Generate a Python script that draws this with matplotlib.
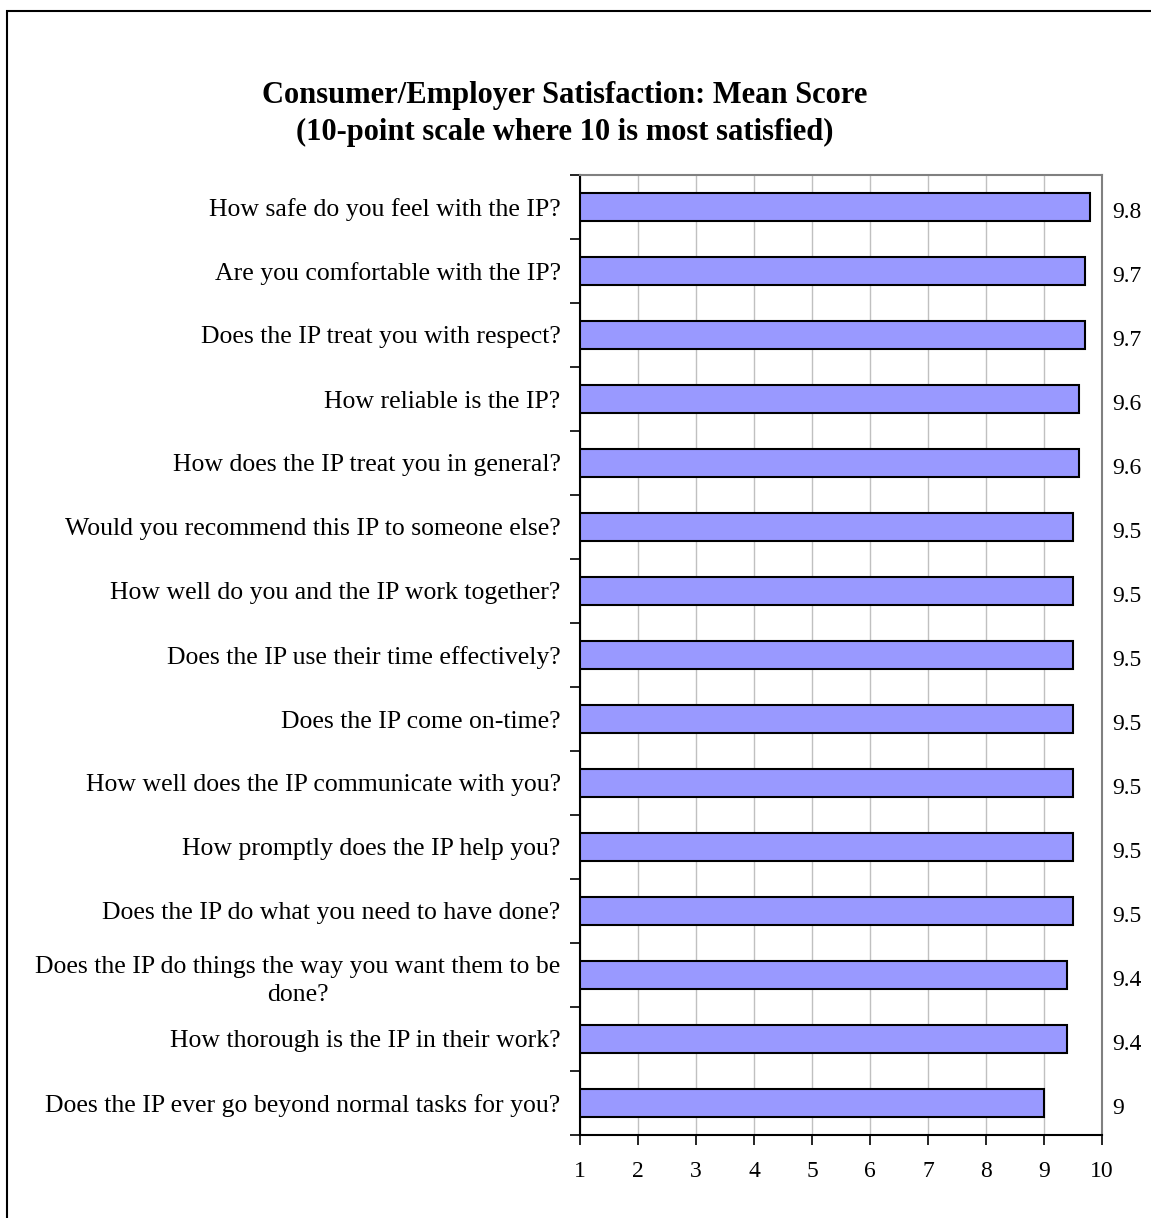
import matplotlib
matplotlib.use("Agg")
import matplotlib.pyplot as plt
from matplotlib.patches import Rectangle
import numpy as np

# Survey questions (top to bottom) and their mean scores
questions = [
    "How safe do you feel with the IP?",
    "Are you comfortable with the IP?",
    "Does the IP treat you with respect?",
    "How reliable is the IP?",
    "How does the IP treat you in general?",
    "Would you recommend this IP to someone else?",
    "How well do you and the IP work together?",
    "Does the IP use their time effectively?",
    "Does the IP come on-time?",
    "How well does the IP communicate with you?",
    "How promptly does the IP help you?",
    "Does the IP do what you need to have done?",
    "Does the IP do things the way you want them to be\ndone?",
    "How thorough is the IP in their work?",
    "Does the IP ever go beyond normal tasks for you?",
]
scores = [9.8, 9.7, 9.7, 9.6, 9.6, 9.5, 9.5, 9.5, 9.5, 9.5, 9.5, 9.5, 9.4, 9.4, 9.0]
score_labels = ["9.8", "9.7", "9.7", "9.6", "9.6", "9.5", "9.5", "9.5", "9.5",
                "9.5", "9.5", "9.5", "9.4", "9.4", "9"]
x_ticks = [1, 2, 3, 4, 5, 6, 7, 8, 9, 10]
title = "Consumer/Employer Satisfaction: Mean Score\n(10-point scale where 10 is most satisfied)"

plt.rcParams["font.family"] = ["Liberation Serif", "DejaVu Serif"]

W, H = 1151, 1218
fig = plt.figure(figsize=(W / 100, H / 100), dpi=100)
fig.patch.set_facecolor("white")

left, right, top, bottom = 580, 1102, 175, 1135
ax = fig.add_axes([left / W, 1 - bottom / H, (right - left) / W, (bottom - top) / H])

n = len(questions)
y = np.arange(n)
x_min = x_ticks[0]
ax.barh(y, [s - x_min for s in scores], left=x_min, height=0.43,
        color="#9999FF", edgecolor="black", linewidth=1.5, zorder=3)

ax.set_xlim(x_ticks[0], x_ticks[-1])
ax.set_ylim(n - 0.5, -0.5)

ax.set_xticks(x_ticks)
ax.set_xticklabels([str(t) for t in x_ticks], fontsize=17)
ax.tick_params(axis="x", direction="out", length=7, width=1.2, pad=12, colors="black")

ax.set_yticks(y)
ax.set_yticklabels(questions, fontsize=18.5, ha="right", multialignment="center",
                   linespacing=1.4)
ax.tick_params(axis="y", which="major", length=0, pad=14)
ax.set_yticks(np.arange(-0.5, n, 1.0), minor=True)
ax.tick_params(axis="y", which="minor", direction="out", length=7, width=1.2)

ax.grid(axis="x", color="#c0c0c0", linewidth=1.0, zorder=0)
ax.set_axisbelow(True)

for side in ("left", "bottom"):
    ax.spines[side].set_color("black")
    ax.spines[side].set_linewidth(1.5)
for side in ("top", "right"):
    ax.spines[side].set_color("#808080")
    ax.spines[side].set_linewidth(1.5)

# Value labels to the right of the plot area
trans = matplotlib.transforms.blended_transform_factory(ax.transAxes, ax.transData)
for yi, lab in zip(y, score_labels):
    ax.text(1.0 + 10 / (right - left), yi + 0.08, lab, transform=trans,
            ha="left", va="center", fontsize=17)

fig.text(565 / W, 1 - 114 / H, title, ha="center", va="center",
         fontsize=22, fontweight="bold", linespacing=1.35)

# Outer frame of the chart
fig.patches.append(Rectangle((7 / W, -0.05), 1.2, 1 - 11 / H + 0.05,
                             transform=fig.transFigure, fill=False,
                             edgecolor="black", linewidth=1.5))

fig.savefig("out.png", dpi=100)
